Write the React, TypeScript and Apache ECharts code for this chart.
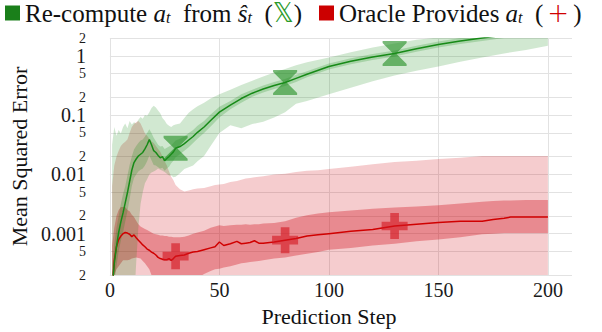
import React, { useEffect, useRef } from "react";
import * as echarts from "echarts";

// ---- Data (values are log10 of MSE) ----
const GREEN_STEPS = [1,2,3,4,5,6,7,8,9,10,11,12,13,14,15,16,17,18,19,20,21,22,23,24,25,26,27,28,29,30,32,34,36,38,40,43,46,50,55,60,65,70,75,80,85,90,100,110,120,130,140,150,160,170,180,190,200];
const GREEN_MEDIAN_EXP = [-3.95,-3.5,-3.22,-2.98,-2.8,-2.65,-2.48,-2.31,-2.12,-1.93,-1.8,-1.74,-1.69,-1.66,-1.63,-1.57,-1.5,-1.41,-1.5,-1.6,-1.63,-1.68,-1.72,-1.7,-1.77,-1.73,-1.7,-1.66,-1.62,-1.56,-1.53,-1.48,-1.42,-1.36,-1.29,-1.2,-1.09,-0.95,-0.83,-0.72,-0.63,-0.56,-0.5,-0.45,-0.38,-0.31,-0.18,-0.09,-0.02,0.04,0.12,0.19,0.25,0.3,0.35,0.4,0.44];
const GREEN_INNER_HIGH_EXP = [-3.65,-3.18,-2.9,-2.7,-2.5,-2.33,-2.2,-2.02,-1.84,-1.7,-1.58,-1.52,-1.47,-1.43,-1.41,-1.36,-1.3,-1.24,-1.3,-1.38,-1.44,-1.5,-1.53,-1.52,-1.57,-1.55,-1.53,-1.51,-1.47,-1.43,-1.4,-1.36,-1.3,-1.25,-1.18,-1.1,-0.99,-0.86,-0.76,-0.65,-0.57,-0.5,-0.44,-0.39,-0.32,-0.26,-0.13,-0.04,0.03,0.09,0.17,0.24,0.3,0.35,0.4,0.45,0.49];
const GREEN_INNER_LOW_EXP = [-4.3,-3.85,-3.55,-3.3,-3.12,-2.98,-2.8,-2.62,-2.42,-2.2,-2.06,-2.0,-1.95,-1.92,-1.9,-1.85,-1.78,-1.68,-1.76,-1.84,-1.85,-1.88,-1.9,-1.89,-1.94,-1.9,-1.87,-1.81,-1.77,-1.71,-1.66,-1.6,-1.54,-1.47,-1.4,-1.3,-1.19,-1.04,-0.9,-0.79,-0.69,-0.62,-0.56,-0.51,-0.44,-0.36,-0.23,-0.14,-0.07,-0.01,0.07,0.14,0.2,0.25,0.3,0.35,0.39];
const GREEN_OUTER_HIGH_EXP = [-1.5,-1.2,-1.35,-1.25,-1.31,-1.2,-1.14,-1.22,-1.1,-1.16,-1.12,-1.14,-1.08,-1.03,-1.06,-1.0,-1.01,-0.95,-0.88,-0.84,-0.87,-0.92,-0.97,-1.05,-1.09,-1.15,-1.18,-1.2,-1.17,-1.16,-1.14,-1.05,-0.96,-0.9,-0.85,-0.79,-0.72,-0.65,-0.57,-0.49,-0.42,-0.35,-0.28,-0.22,-0.16,-0.11,-0.03,0.06,0.14,0.21,0.27,0.31,0.35,0.4,0.44,0.48,0.52];
const GREEN_OUTER_LOW_EXP = [-4.5,-4.5,-4.5,-4.5,-4.5,-4.5,-4.5,-4.5,-4.5,-4.4,-4.2,-3.5,-2.9,-2.5,-2.3,-2.15,-2.08,-2.0,-1.97,-1.95,-1.93,-1.9,-1.92,-1.94,-1.96,-1.99,-2.02,-2.02,-2.05,-2.04,-1.98,-1.91,-1.88,-1.85,-1.78,-1.69,-1.52,-1.3,-1.17,-1.22,-1.15,-1.11,-1.04,-0.95,-0.81,-0.76,-0.65,-0.54,-0.43,-0.33,-0.25,-0.18,-0.1,-0.03,0.04,0.1,0.17];

const RED_STEPS = [1,2,3,4,5,6,7,8,9,10,11,12,13,14,15,16,17,18,19,20,21,22,23,24,25,26,27,28,29,30,32,34,36,38,40,43,46,48,50,52,55,58,60,62,64,66,68,70,75,80,85,90,95,100,110,120,130,140,150,160,170,175,180,183,190,200];
const RED_MEDIAN_EXP = [-4.0,-3.45,-3.22,-3.1,-3.04,-3.0,-2.98,-2.99,-3.01,-3.05,-3.02,-3.07,-3.11,-3.15,-3.19,-3.22,-3.26,-3.28,-3.31,-3.33,-3.36,-3.4,-3.42,-3.43,-3.44,-3.44,-3.42,-3.45,-3.42,-3.38,-3.37,-3.36,-3.33,-3.31,-3.3,-3.27,-3.24,-3.22,-3.14,-3.2,-3.17,-3.13,-3.17,-3.16,-3.15,-3.12,-3.16,-3.16,-3.14,-3.11,-3.08,-3.04,-3.02,-3.0,-2.96,-2.93,-2.87,-2.84,-2.81,-2.79,-2.79,-2.76,-2.74,-2.72,-2.72,-2.72];
const RED_INNER_HIGH_EXP = [-3.2,-2.9,-2.7,-2.6,-2.55,-2.55,-2.55,-2.6,-2.62,-2.68,-2.72,-2.78,-2.84,-2.88,-2.9,-2.92,-2.94,-2.96,-2.98,-3.0,-3.01,-3.02,-3.03,-3.03,-3.04,-3.04,-3.05,-3.05,-3.06,-3.06,-3.06,-3.05,-3.03,-3.0,-2.98,-2.95,-2.9,-2.88,-2.86,-2.87,-2.86,-2.85,-2.85,-2.84,-2.85,-2.84,-2.84,-2.83,-2.82,-2.79,-2.73,-2.69,-2.66,-2.64,-2.61,-2.58,-2.56,-2.54,-2.52,-2.49,-2.46,-2.45,-2.44,-2.44,-2.43,-2.43];
const RED_INNER_LOW_EXP = [-4.5,-3.7,-3.6,-3.55,-3.5,-3.45,-3.45,-3.45,-3.44,-3.42,-3.41,-3.4,-3.41,-3.42,-3.46,-3.5,-3.55,-3.6,-3.7,-3.8,-3.9,-4.0,-4.0,-4.0,-4.0,-4.0,-4.0,-4.0,-4.0,-4.0,-4.0,-4.0,-4.0,-3.9,-3.75,-3.68,-3.63,-3.6,-3.59,-3.57,-3.55,-3.52,-3.5,-3.49,-3.48,-3.47,-3.46,-3.45,-3.42,-3.4,-3.37,-3.34,-3.31,-3.27,-3.24,-3.2,-3.17,-3.13,-3.1,-3.06,-3.01,-3.0,-2.99,-2.99,-2.99,-2.99];
const RED_OUTER_HIGH_EXP = [-2.2,-1.85,-1.7,-1.6,-1.52,-1.48,-1.45,-1.41,-1.3,-1.2,-1.15,-1.12,-1.1,-1.14,-1.22,-1.31,-1.35,-1.4,-1.44,-1.47,-1.52,-1.57,-1.62,-1.7,-1.78,-1.85,-1.95,-2.04,-2.1,-2.18,-2.25,-2.29,-2.27,-2.25,-2.24,-2.23,-2.2,-2.18,-2.17,-2.16,-2.13,-2.11,-2.09,-2.07,-2.06,-2.05,-2.04,-2.03,-2.0,-1.99,-1.96,-1.94,-1.93,-1.91,-1.87,-1.83,-1.79,-1.77,-1.74,-1.72,-1.69,-1.69,-1.69,-1.69,-1.69,-1.69];
// lower edge of the light red band lies below the visible range everywhere
const RED_OUTER_LOW_STEPS = [1, 200];
const RED_OUTER_LOW_EXP = [-4.5, -4.5];

const MARKER_STEPS = [30, 80, 130];

const X_TICKS = [0, 50, 100, 150, 200];
const Y_TICKS = [0.0002, 0.0005, 0.001, 0.002, 0.005, 0.01, 0.02, 0.05, 0.1, 0.2, 0.5, 1, 2];
const Y_TICK_LABELS = ["2", "5", "0.001", "2", "5", "0.01", "2", "5", "0.1", "2", "5", "1", "2"];
const Y_TICK_MAJOR = [false, false, true, false, false, true, false, false, true, false, false, true, false];

const GREEN_NAME = "Re-compute";
const RED_NAME = "Oracle";

const SERIF = "Liberation Serif";
const GREEN_LINE = "#178a17";
const RED_LINE = "#d00000";

const toPts = (steps: number[], exps: number[]) =>
  steps.map((s, i) => [s, Math.pow(10, exps[i])]);

function bandSeries(upSteps: number[], upExp: number[], loSteps: number[], loExp: number[], fill: string) {
  const upper = toPts(upSteps, upExp);
  const lower = toPts(loSteps, loExp);
  return {
    type: "custom",
    coordinateSystem: "cartesian2d",
    silent: true,
    data: [upper[0]],
    renderItem: (params: any, api: any) => {
      const cs = params.coordSys;
      const points = [
        ...upper.map((p) => api.coord(p)),
        ...lower.slice().reverse().map((p) => api.coord(p)),
      ];
      return {
        type: "polygon",
        shape: { points },
        style: { fill, stroke: null },
        clipPath: { type: "rect", shape: { x: cs.x, y: cs.y, width: cs.width, height: cs.height } },
      };
    },
  };
}

function markerPts(steps: number[], exps: number[]) {
  return MARKER_STEPS.map((m) => {
    const i = steps.indexOf(m);
    return [m, Math.pow(10, exps[i])];
  });
}

export default function App() {
  const ref = useRef<HTMLDivElement>(null);
  useEffect(() => {
    if (!ref.current) return;
    const chart = echarts.init(ref.current, undefined, { renderer: "svg" });
    const option: any = {
      animation: false,
      backgroundColor: "#ffffff",
      textStyle: { fontFamily: SERIF },
      grid: { left: 104.5, right: 30, top: 38, bottom: 49, containLabel: false },
      legend: {
        left: 5,
        top: 0,
        padding: 0,
        itemWidth: 15,
        itemHeight: 15,
        itemGap: 17,
        icon: "rect",
        data: [
          { name: GREEN_NAME, itemStyle: { color: "#1a7f1a" } },
          { name: RED_NAME, itemStyle: { color: "#cc0000" } },
        ],
        formatter: (name: string) =>
          name === GREEN_NAME
            ? "{t|Re-compute }{i|a}{s|t}{t|  from }{i|ŝ}{s|t}{t|  (}{gx|𝕏}{t|)}"
            : "{t|Oracle Provides }{i|a}{s|t}{t|  (}{rp|+}{t|)}",
        textStyle: {
          fontFamily: SERIF,
          fontSize: 25,
          color: "#111",
          rich: {
            t: { fontFamily: SERIF, fontSize: 25, color: "#111", lineHeight: 24 },
            i: { fontFamily: SERIF, fontSize: 25, fontStyle: "italic", color: "#111", lineHeight: 24 },
            s: { fontFamily: SERIF, fontSize: 16, fontStyle: "italic", color: "#111", lineHeight: 12, verticalAlign: "bottom" },
            gx: { fontFamily: "DejaVu Sans", fontSize: 26, color: "#2a9a2a", lineHeight: 24 },
            rp: { fontFamily: "DejaVu Sans", fontSize: 26, fontWeight: "lighter", color: "#d00000", lineHeight: 24, padding: [0, 4, 0, 4] },
          },
        },
      },
      xAxis: {
        type: "value",
        min: 0,
        max: 211,
        name: "Prediction Step",
        nameLocation: "middle",
        nameGap: 22,
        nameTextStyle: { fontFamily: SERIF, fontSize: 22, color: "#111", padding: [0, 24, 0, 0] },
        axisLine: { show: false },
        axisTick: { show: false, customValues: X_TICKS },
        axisLabel: { customValues: X_TICKS, fontFamily: SERIF, fontSize: 20, color: "#1a1a1a", margin: 5 },
        splitLine: { show: true, lineStyle: { color: "#e2e2e2", width: 1 } },
      },
      yAxis: {
        type: "log",
        logBase: 10,
        min: 0.00019999,
        max: 2.0001,
        name: "Mean Squared Error",
        nameLocation: "middle",
        nameGap: 70,
        nameTextStyle: { fontFamily: SERIF, fontSize: 22, color: "#111" },
        axisLine: { show: false },
        axisTick: { show: false, customValues: Y_TICKS },
        axisLabel: {
          customValues: Y_TICKS,
          margin: 24,
          formatter: (v: number) => {
            let best = 0;
            let bd = Infinity;
            Y_TICKS.forEach((t, i) => {
              const d = Math.abs(Math.log10(v) - Math.log10(t));
              if (d < bd) { bd = d; best = i; }
            });
            return Y_TICK_MAJOR[best] ? `{maj|${Y_TICK_LABELS[best]}}` : `{min|${Y_TICK_LABELS[best]}}`;
          },
          rich: {
            maj: { fontFamily: SERIF, fontSize: 20, color: "#1a1a1a" },
            min: { fontFamily: SERIF, fontSize: 14, color: "#1a1a1a" },
          },
        },
        splitLine: { show: true, lineStyle: { color: "#e2e2e2", width: 1 } },
      },
      series: [
        bandSeries(RED_STEPS, RED_OUTER_HIGH_EXP, RED_OUTER_LOW_STEPS, RED_OUTER_LOW_EXP, "rgba(205,0,12,0.2)"),
        bandSeries(RED_STEPS, RED_INNER_HIGH_EXP, RED_STEPS, RED_INNER_LOW_EXP, "rgba(205,0,12,0.32)"),
        bandSeries(GREEN_STEPS, GREEN_OUTER_HIGH_EXP, GREEN_STEPS, GREEN_OUTER_LOW_EXP, "rgba(0,128,0,0.18)"),
        bandSeries(GREEN_STEPS, GREEN_INNER_HIGH_EXP, GREEN_STEPS, GREEN_INNER_LOW_EXP, "rgba(0,128,0,0.2)"),
        {
          name: RED_NAME,
          type: "line",
          data: toPts(RED_STEPS, RED_MEDIAN_EXP),
          showSymbol: false,
          symbol: "none",
          color: RED_LINE,
          lineStyle: { color: RED_LINE, width: 1.5 },
          clip: true,
        },
        {
          name: GREEN_NAME,
          type: "line",
          data: toPts(GREEN_STEPS, GREEN_MEDIAN_EXP),
          showSymbol: false,
          symbol: "none",
          color: GREEN_LINE,
          lineStyle: { color: GREEN_LINE, width: 1.5 },
          clip: true,
        },
        {
          type: "scatter",
          data: markerPts(RED_STEPS, RED_MEDIAN_EXP),
          symbol: "path://M8,0 L16,0 L16,8 L24,8 L24,16 L16,16 L16,24 L8,24 L8,16 L0,16 L0,8 L8,8 Z",
          symbolSize: [26, 26],
          itemStyle: { color: "rgba(212,20,30,0.75)" },
          silent: true,
          z: 5,
        },
        {
          type: "scatter",
          data: markerPts(GREEN_STEPS, GREEN_MEDIAN_EXP),
          symbol: "path://M0,0 L24,0 L24,2 L13.5,12 L24,22 L24,24 L0,24 L0,22 L10.5,12 L0,2 Z",
          symbolSize: [24, 25],
          itemStyle: { color: "rgba(30,140,30,0.75)" },
          silent: true,
          z: 5,
        },
      ],
    };
    chart.setOption(option);
    return () => chart.dispose();
  }, []);
  return (
    <div
      ref={ref}
      style={{ position: "fixed", left: 0, top: 0, width: 602, height: 332, background: "#fff" }}
    />
  );
}
